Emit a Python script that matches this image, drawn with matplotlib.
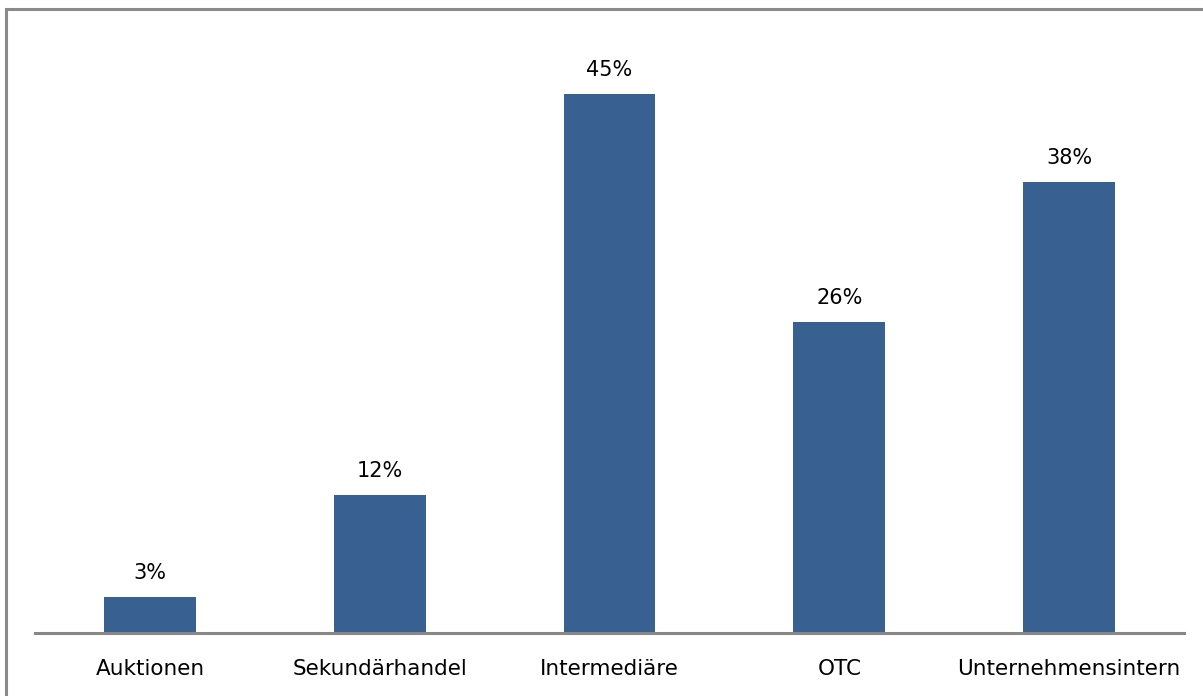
import matplotlib.pyplot as plt
from matplotlib.patches import Rectangle

categories = ['Auktionen', 'Sekundärhandel', 'Intermediäre', 'OTC', 'Unternehmensintern']
values = [3, 11.5, 45, 26, 37.7]
labels = ['3%', '12%', '45%', '26%', '38%']

plt.rcParams['font.family'] = ['DejaVu Sans']

fig = plt.figure(figsize=(12.03, 6.96), dpi=100)
W, H = 1203, 696
# axes: x 35..1184 px, y 20..633 px
ax = fig.add_axes([35 / W, (H - 633) / H, (1184 - 35) / W, (633 - 20) / H])

x = range(len(categories))
bars = ax.bar(x, values, width=0.4, color='#386192')
ax.set_xlim(-0.5, len(categories) - 0.5)
ax.set_ylim(0, 51.2)

for b, lab in zip(bars, labels):
    ax.annotate(lab, (b.get_x() + b.get_width() / 2, b.get_height()),
                xytext=(0, 10), textcoords='offset points',
                ha='center', va='bottom', fontsize=15, color='#000000')

ax.set_xticks(list(x))
ax.set_xticklabels(categories, fontsize=15.5)
ax.tick_params(axis='x', length=0, pad=18.5)
ax.set_yticks([])
for s in ['top', 'right', 'left']:
    ax.spines[s].set_visible(False)
ax.spines['bottom'].set_color('#878787')
ax.spines['bottom'].set_linewidth(2.2)

# outer border of the chart area (right/bottom cut off)
fig.patches.append(Rectangle((6 / W, -0.1), 1.2, 1 - 9 / H + 0.1,
                             transform=fig.transFigure, fill=False,
                             edgecolor='#8a8a8a', linewidth=2.2))

fig.savefig('out.png', dpi=100)
